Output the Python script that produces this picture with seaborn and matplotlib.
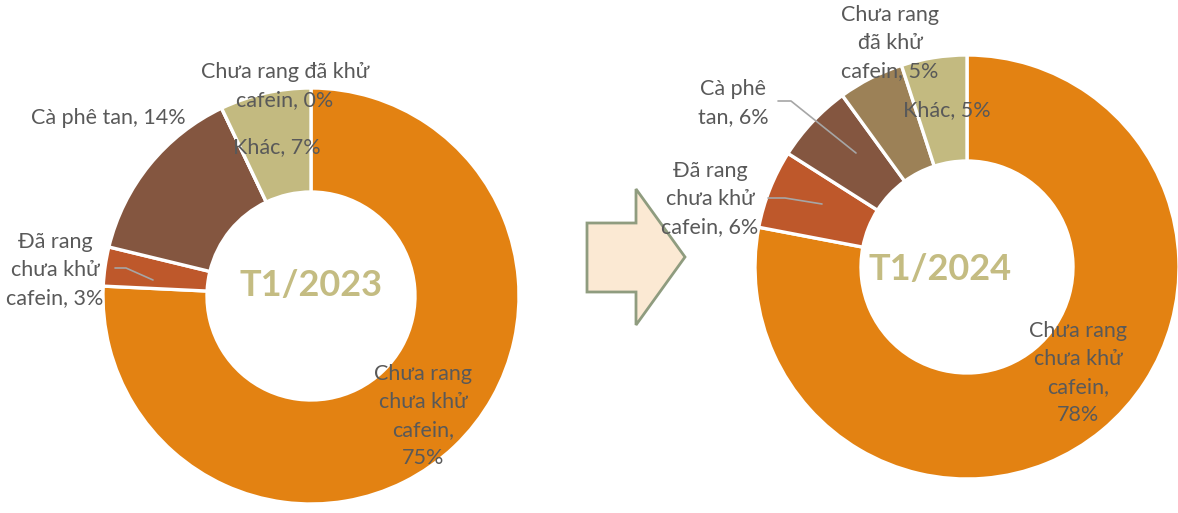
import matplotlib
matplotlib.use("Agg")
import matplotlib.pyplot as plt
from matplotlib.patches import Polygon
import seaborn as sns

sns.set_theme(style="white")
plt.rcParams['font.family'] = ['Lato', 'DejaVu Sans']

categories = ["Chưa rang chưa khử cafein", "Đã rang chưa khử cafein", "Cà phê tan",
              "Chưa rang đã khử cafein", "Khác"]
values_2023 = [75, 3, 14, 0, 7]
values_2024 = [78, 6, 6, 5, 5]
labels_2023 = ["Chưa rang\nchưa khử\ncafein,\n75%", "Đã rang\nchưa khử\ncafein, 3%",
               "Cà phê tan, 14%", "Chưa rang đã khử\ncafein, 0%", "Khác, 7%"]
labels_2024 = ["Chưa rang\nchưa khử\ncafein,\n78%", "Đã rang\nchưa khử\ncafein, 6%",
               "Cà phê\ntan, 6%", "Chưa rang\nđã khử\ncafein, 5%", "Khác, 5%"]
titles = ["T1/2023", "T1/2024"]

colors = ["#E38212", "#BE582B", "#845640", "#9C8157", "#C3BA80"]
text_color = "#595959"
title_color = "#C4BC82"

W, H = 1178, 513
fig = plt.figure(figsize=(W / 100, H / 100), dpi=100)
ax = fig.add_axes([0, 0, 1, 1])

def py(y):
    return H - y

def donut(values, center, radius):
    ax.pie(values, colors=colors, startangle=90, counterclock=False,
           center=center, radius=radius, normalize=True,
           wedgeprops=dict(width=radius * 0.5, edgecolor="white", linewidth=2.4),
           frame=True)

donut(values_2023, (311, py(296)), 208)
donut(values_2024, (967, py(267)), 212)
ax.set_xlim(0, W)
ax.set_ylim(0, H)
ax.set_aspect("equal")
ax.axis("off")

fs = 15.5
def lab(x, y, s, ha="center"):
    ax.text(x, py(y), s, ha=ha, va="center", fontsize=fs, color=text_color,
            linespacing=1.5)

# left labels
lab(423, 416, labels_2023[0])
lab(55, 270, labels_2023[1])
lab(108, 118, labels_2023[2])
lab(285, 86, labels_2023[3])
lab(277, 147, labels_2023[4])
# right labels
lab(1078, 373, labels_2024[0])
lab(710, 199, labels_2024[1])
lab(733, 103, labels_2024[2])
lab(890, 43, labels_2024[3])
lab(947, 110, labels_2024[4])

ax.text(311, py(286), titles[0], ha="center", va="center", fontsize=26,
        fontweight="bold", color=title_color)
ax.text(940, py(270), titles[1], ha="center", va="center", fontsize=26,
        fontweight="bold", color=title_color)

lc = "#A6A6A6"
ax.plot([115, 126, 153], [py(268), py(268), py(280)], color=lc, lw=1.2)
ax.plot([778, 791, 856], [py(101), py(101), py(153)], color=lc, lw=1.2)
ax.plot([768, 785, 822], [py(198), py(198), py(204)], color=lc, lw=1.2)

arrow = Polygon([(587, py(223)), (636, py(223)), (636, py(189)), (685, py(257)),
                 (636, py(325)), (636, py(292)), (587, py(292))], closed=True,
                facecolor="#FBE9D3", edgecolor="#8F9C7F", linewidth=2)
ax.add_patch(arrow)

fig.savefig("out.png", dpi=100)
